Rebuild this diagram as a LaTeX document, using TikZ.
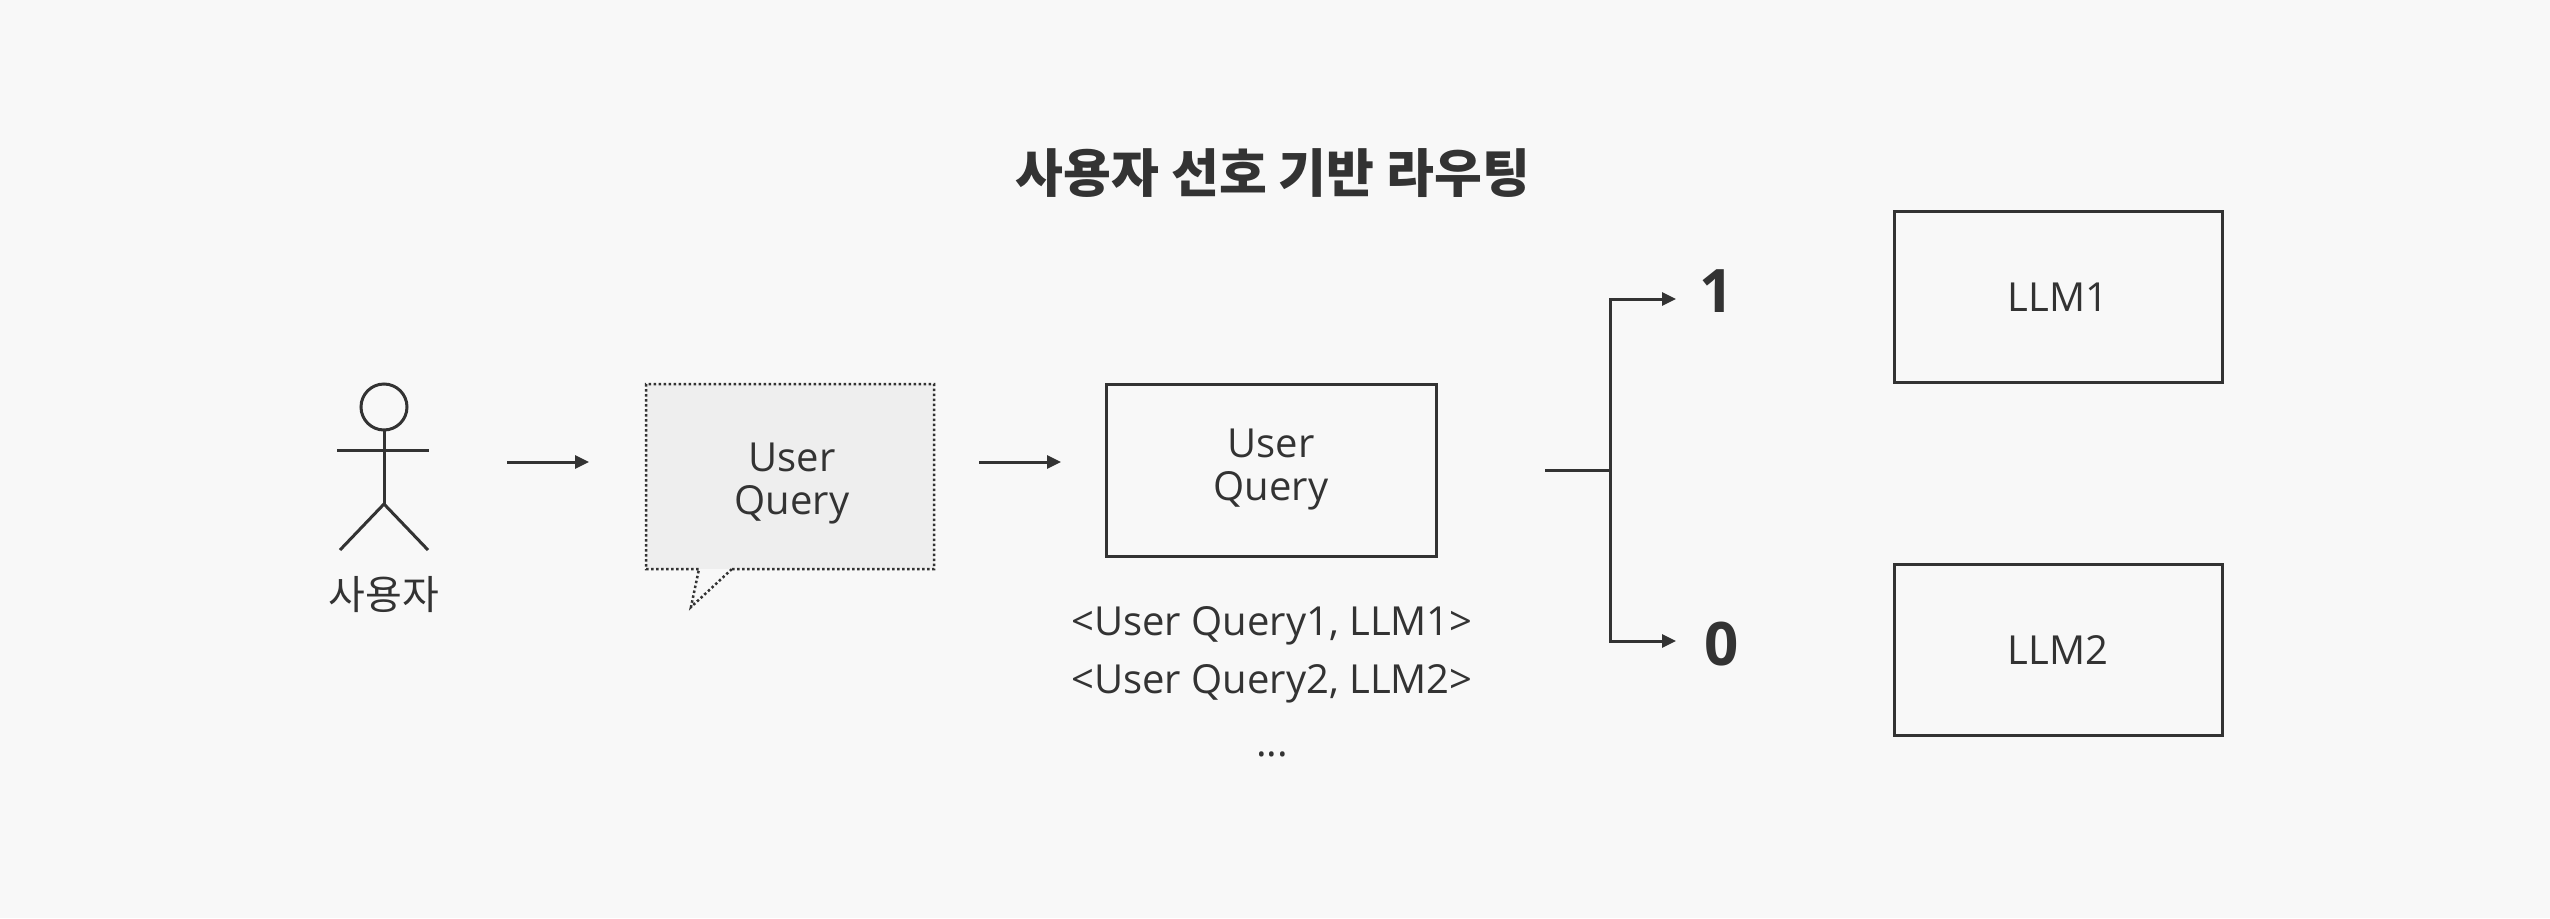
\documentclass[tikz,border=0pt]{standalone}
\usepackage{fontspec}
\setmainfont{Open Sans}
\newfontfamily\kr{Noto Sans CJK KR}
\usetikzlibrary{arrows.meta}
\definecolor{ink}{HTML}{333333}
\definecolor{bg}{HTML}{F8F8F8}
\definecolor{bubblefill}{HTML}{EEEEEE}
\tikzset{
  line/.style={draw=ink, line width=3pt},
  arr/.style={line, -{Triangle[length=14pt,width=13pt]}},
  boxnode/.style={draw=ink, line width=3pt, fill=none, text=ink, align=center, inner sep=0pt},
  lbl/.style={text=ink, align=center, inner sep=0pt},
  txt/.style={font=\fontsize{40}{43}\selectfont},
  dotline/.style={draw=ink, line width=2.5pt, dash pattern=on 2.5pt off 2.5pt},
}
\begin{document}
\begin{tikzpicture}[x=1pt,y=-1pt]
\fill[bg] (0,0) rectangle (2550,918);
\useasboundingbox (0,0) rectangle (2550,918);

% title
\node[lbl, font=\kr\fontsize{52}{58}\selectfont\bfseries] (title) at (1273,173) {사용자 선호 기반 라우팅};

% stick figure
\draw[line] (384,407) circle (23);
\draw[line] (384,430) -- (384,504);
\draw[line] (337,450) -- (429,450);
\draw[line] (340,550) -- (384,504) -- (428,550);
\node[lbl, font=\kr\fontsize{40}{46}\selectfont] (userlbl) at (384,595) {사용자};
\coordinate (userR) at (507,462);

% speech bubble
\fill[bubblefill] (646,384) rectangle (934,569);
\draw[dotline] (732,569) -- (934,569) -- (934,384) -- (646,384) -- (646,569) -- (699,569) -- (691,607) -- (732,569);
\node[lbl, txt] (bubble) at (792,484) {User\\Query};
\coordinate (bubbleL) at (589,462);
\coordinate (bubbleR) at (979,462);

% query box
\node[boxnode, txt, minimum width=330pt, minimum height=172pt] (qbox) at (1271,470) {User\\Query};
\coordinate (qboxL) at (1061,462);
\node[lbl, txt, anchor=base] (pair1) at (1272,635) {<User Query1, LLM1>};
\node[lbl, txt, anchor=base] (pair2) at (1272,693) {<User Query2, LLM2>};
\node[lbl, txt, anchor=base] (dots) at (1272,756) {...};

\draw[arr] (userR) -- (bubbleL);
\draw[arr] (bubbleR) -- (qboxL);

% fork
\coordinate (forkS) at (1545,470);
\coordinate (forkM) at (1610,470);
\node[lbl, font=\fontsize{60}{62}\selectfont\bfseries, anchor=base] (one) at (1717,312) {1};
\node[lbl, font=\fontsize{60}{62}\selectfont\bfseries, anchor=base] (zero) at (1722,665) {0};
\coordinate (oneW) at (1676,299);
\coordinate (zeroW) at (1676,641);
\draw[line] (forkS) -- (forkM);
\draw[arr] (forkM) |- (oneW);
\draw[arr] (forkM) |- (zeroW);

% LLM boxes
\node[boxnode, txt, minimum width=328pt, minimum height=171pt] (llm1) at (2058,297) {LLM1};
\node[boxnode, txt, minimum width=328pt, minimum height=171pt] (llm2) at (2058,650) {LLM2};
\end{tikzpicture}
\end{document}
